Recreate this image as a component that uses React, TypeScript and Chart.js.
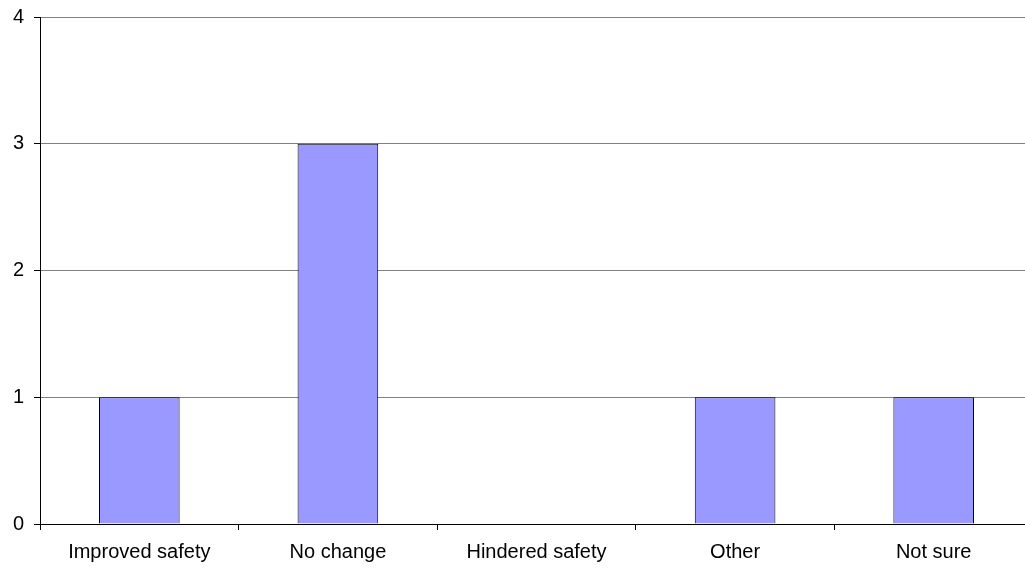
import React, { useEffect, useRef } from "react";
import { Chart, registerables } from "chart.js";

Chart.register(...registerables);

const categories = ["Improved safety", "No change", "Hindered safety", "Other", "Not sure"];
const counts = [1, 3, 0, 1, 1];
const yTicks = [0, 1, 2, 3, 4];

export default function App() {
  const ref = useRef<HTMLCanvasElement | null>(null);

  useEffect(() => {
    if (!ref.current) return;
    const font = { family: "'Liberation Sans', Arial, sans-serif", size: 20 };
    const chart = new Chart(ref.current, {
      type: "bar",
      data: {
        labels: categories,
        datasets: [
          {
            data: counts,
            backgroundColor: "#9999FF",
            borderColor: "#000000",
            borderWidth: 1,
            barPercentage: 0.406,
            categoryPercentage: 1,
          },
        ],
      },
      options: {
        animation: false,
        responsive: false,
        maintainAspectRatio: false,
        layout: { padding: { top: 17, right: 7, bottom: 0, left: 0 } },
        plugins: { legend: { display: false }, tooltip: { enabled: false } },
        scales: {
          x: {
            offset: true,
            grid: {
              display: true,
              drawOnChartArea: false,
              drawTicks: true,
              offset: true,
              tickLength: 6,
              tickColor: "#000000",
            },
            border: { color: "#000000", width: 1 },
            ticks: { color: "#000000", font, padding: 10, maxRotation: 0, autoSkip: false },
            afterFit: (s: any) => {
              s.height = 45;
              s.paddingLeft = 0;
              s.paddingRight = 0;
            },
          },
          y: {
            min: 0,
            max: 4,
            afterBuildTicks: (s: any) => {
              s.ticks = yTicks.map((v) => ({ value: v }));
            },
            grid: { color: "#808080", tickColor: "#000000", tickLength: 6, lineWidth: 1 },
            border: { color: "#000000", width: 1 },
            ticks: { color: "#000000", font, padding: 10 },
            afterFit: (s: any) => {
              s.width = 40;
              s.paddingTop = 0;
              s.paddingBottom = 0;
            },
          },
        },
      },
    });
    return () => chart.destroy();
  }, []);

  return (
    <div
      style={{
        position: "fixed",
        left: 0,
        top: 0,
        width: 1025,
        height: 569,
        overflow: "hidden",
        background: "#ffffff",
      }}
    >
      <canvas ref={ref} width={1040} height={569} style={{ display: "block" }} />
    </div>
  );
}
